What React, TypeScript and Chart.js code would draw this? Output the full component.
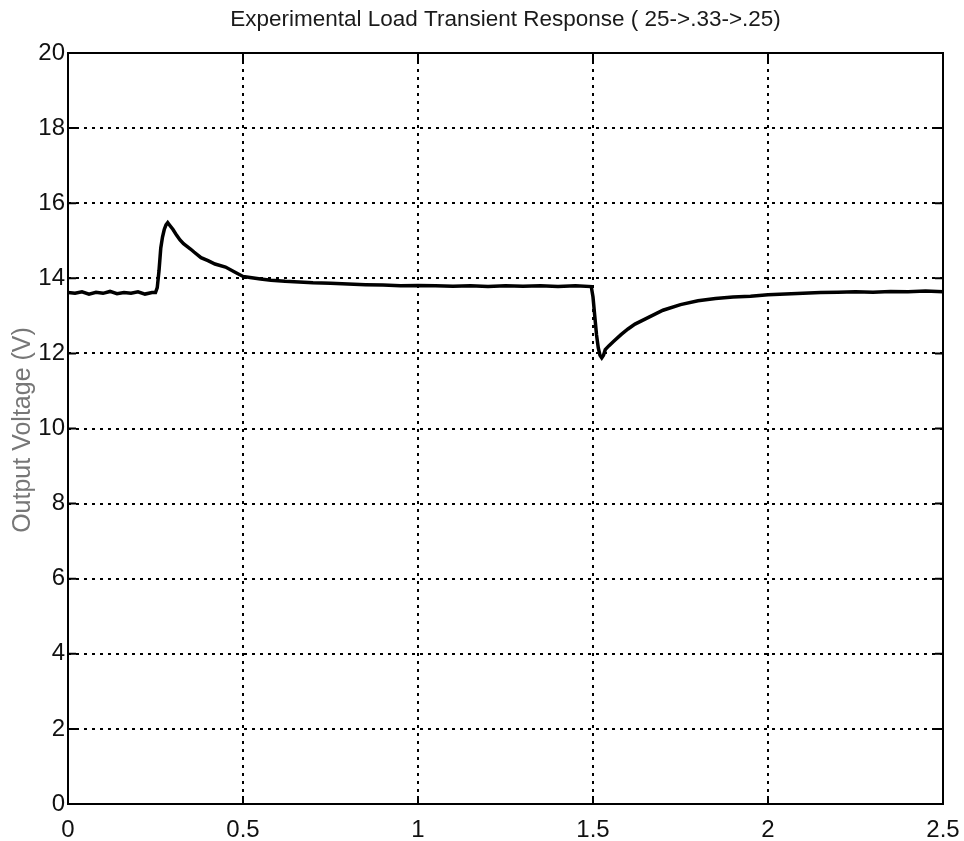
import React, { useEffect, useRef } from "react";
import { Chart, registerables } from "chart.js";

Chart.register(...registerables);

// Time axis (s) and measured output voltage (V)
const timeS: number[] = [
  0.0, 0.02, 0.04, 0.06, 0.08, 0.1, 0.12, 0.14, 0.16, 0.18, 0.2, 0.22, 0.24, 0.25,
  0.255, 0.26, 0.265, 0.27, 0.275, 0.28, 0.285, 0.29, 0.3, 0.31, 0.32, 0.33, 0.34,
  0.35, 0.36, 0.38, 0.4, 0.42, 0.45, 0.48, 0.5, 0.52, 0.55, 0.58, 0.62, 0.66, 0.7,
  0.75, 0.8, 0.85, 0.9, 0.95, 1.0, 1.05, 1.1, 1.15, 1.2, 1.25, 1.3, 1.35, 1.4, 1.45,
  1.495, 1.5, 1.505, 1.51, 1.515, 1.52, 1.525, 1.53, 1.535, 1.545, 1.56, 1.58, 1.6,
  1.62, 1.65, 1.7, 1.75, 1.8, 1.85, 1.9, 1.95, 2.0, 2.05, 2.1, 2.15, 2.2, 2.25, 2.3,
  2.35, 2.4, 2.45, 2.5,
];
const voltage: number[] = [
  13.62, 13.6, 13.64, 13.58, 13.63, 13.6, 13.65, 13.59, 13.62, 13.6, 13.64, 13.58, 13.62, 13.62,
  13.75, 14.2, 14.8, 15.1, 15.3, 15.42, 15.48, 15.42, 15.3, 15.15, 15.02, 14.92, 14.85,
  14.78, 14.7, 14.55, 14.47, 14.38, 14.3, 14.15, 14.05, 14.02, 13.98, 13.95, 13.92, 13.9, 13.88,
  13.87, 13.85, 13.83, 13.82, 13.8, 13.81, 13.8, 13.79, 13.8, 13.78, 13.8, 13.79, 13.8, 13.78, 13.8,
  13.78, 13.5, 13.0, 12.5, 12.15, 11.95, 11.88, 11.95, 12.1, 12.2, 12.33, 12.5, 12.65,
  12.78, 12.92, 13.15, 13.3, 13.4, 13.46, 13.5, 13.52, 13.56, 13.58, 13.6, 13.62, 13.63, 13.64, 13.63,
  13.65, 13.64, 13.66, 13.64,
];

const xTicks: number[] = [0, 0.5, 1, 1.5, 2, 2.5];
const yTicks: number[] = [0, 2, 4, 6, 8, 10, 12, 14, 16, 18, 20];

const titleText = "Experimental Load Transient Response ( 25->.33->.25)";
const yAxisTitle = "Output Voltage (V)";

const FONT = "'Liberation Sans', Arial, sans-serif";

const framePlugin = {
  id: "frame",
  afterDraw(chart: any) {
    const { ctx, chartArea } = chart;
    const { left, right, top, bottom } = chartArea;
    const xs = chart.scales.x;
    const ys = chart.scales.y;
    ctx.save();
    ctx.strokeStyle = "#000";
    ctx.lineWidth = 2;
    ctx.strokeRect(left, top, right - left, bottom - top);
    // inward tick marks on all four sides
    const len = 8;
    ctx.lineWidth = 2;
    ctx.beginPath();
    xTicks.forEach((t) => {
      const px = xs.getPixelForValue(t);
      ctx.moveTo(px, bottom);
      ctx.lineTo(px, bottom - len);
      ctx.moveTo(px, top);
      ctx.lineTo(px, top + len);
    });
    yTicks.forEach((t) => {
      const py = ys.getPixelForValue(t);
      ctx.moveTo(left, py);
      ctx.lineTo(left + len, py);
      ctx.moveTo(right, py);
      ctx.lineTo(right - len, py);
    });
    ctx.stroke();

    // title
    ctx.fillStyle = "#1a1a1a";
    ctx.font = `22.5px ${FONT}`;
    ctx.textAlign = "center";
    ctx.textBaseline = "middle";
    ctx.fillText(titleText, (left + right) / 2, 20);

    // y axis title
    ctx.translate(23, 430);
    ctx.rotate(-Math.PI / 2);
    ctx.fillStyle = "#777";
    ctx.font = `25px ${FONT}`;
    ctx.fillText(yAxisTitle, 0, 0);
    ctx.restore();
  },
};

export default function App() {
  const canvasRef = useRef<HTMLCanvasElement | null>(null);

  useEffect(() => {
    document.body.style.margin = "0";
    const canvas = canvasRef.current;
    if (!canvas) return;
    const points = timeS.map((t, i) => ({ x: t, y: voltage[i] }));
    const chart = new Chart(canvas, {
      type: "line",
      data: {
        datasets: [
          {
            data: points,
            borderColor: "#000",
            borderWidth: 3.5,
            pointRadius: 0,
            tension: 0,
            fill: false,
          },
        ],
      },
      options: {
        responsive: false,
        animation: false,
        events: [],
        layout: { padding: { top: 53, right: 21, left: 0, bottom: 0 } },
        plugins: {
          legend: { display: false },
          title: { display: false },
          tooltip: { enabled: false },
        },
        scales: {
          x: {
            type: "linear",
            min: 0,
            max: 2.5,
            afterBuildTicks: (scale: any) => {
              scale.ticks = xTicks.map((v) => ({ value: v }));
            },
            afterFit: (scale: any) => {
              scale.height = 37;
              scale.paddingLeft = 0;
              scale.paddingRight = 0;
            },
            grid: { color: "#000", lineWidth: 2, drawTicks: false },
            border: { display: false, dash: [3, 5] },
            ticks: {
              color: "#111",
              padding: 12,
              maxRotation: 0,
              callback: (v: any) => String(v),
              font: { family: FONT, size: 24 },
            },
          },
          y: {
            min: 0,
            max: 20,
            afterBuildTicks: (scale: any) => {
              scale.ticks = yTicks.map((v) => ({ value: v }));
            },
            afterFit: (scale: any) => {
              scale.width = 68;
            },
            grid: { color: "#000", lineWidth: 2, drawTicks: false },
            border: { display: false, dash: [3, 5] },
            ticks: {
              color: "#111",
              padding: 3,
              callback: (v: any) => String(v),
              font: { family: FONT, size: 24 },
            },
          },
        },
      },
      plugins: [framePlugin],
    });
    return () => chart.destroy();
  }, []);

  return (
    <div style={{ position: "absolute", left: 0, top: 0, width: 964, height: 841, background: "#fff" }}>
      <canvas ref={canvasRef} width={964} height={841} style={{ display: "block" }} />
    </div>
  );
}
